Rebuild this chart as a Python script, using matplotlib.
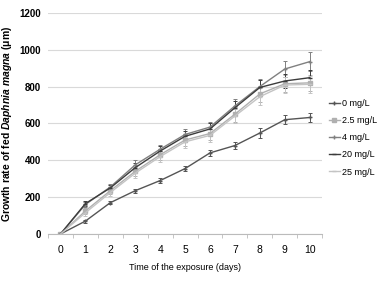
import numpy as np
import matplotlib
matplotlib.use("Agg")
import matplotlib.pyplot as plt

plt.rcParams['font.family'] = ['Liberation Sans', 'DejaVu Sans']
plt.rcParams['mathtext.fontset'] = 'custom'
plt.rcParams['mathtext.rm'] = 'Liberation Sans'
plt.rcParams['mathtext.it'] = 'Liberation Sans:italic'
plt.rcParams['mathtext.bf'] = 'Liberation Sans:bold'
plt.rcParams['mathtext.bfit'] = 'Liberation Sans:italic:bold'

days = [0, 1, 2, 3, 4, 5, 6, 7, 8, 9, 10]
labels = ["0 mg/L", "2.5 mg/L", "4 mg/L", "20 mg/L", "25 mg/L"]
g0 = [0, 70, 170, 235, 290, 355, 440, 480, 548, 620, 632]
g2_5 = [0, 125, 235, 340, 430, 510, 545, 650, 760, 815, 820]
g4 = [0, 160, 255, 375, 460, 540, 580, 695, 800, 895, 935]
g20 = [0, 165, 250, 360, 450, 530, 570, 685, 795, 830, 848]
g25 = [0, 115, 225, 330, 420, 500, 535, 640, 745, 808, 812]
e0 = [0, 8, 8, 10, 12, 15, 18, 20, 25, 25, 25]
e2_5 = [0, 15, 18, 25, 30, 35, 35, 40, 45, 45, 45]
e4 = [0, 12, 18, 25, 25, 30, 30, 35, 40, 45, 50]
e20 = [0, 12, 18, 25, 25, 30, 30, 35, 40, 40, 40]
e25 = [0, 15, 18, 25, 30, 35, 35, 40, 45, 45, 45]

series = [g0, g2_5, g4, g20, g25]
errs = [e0, e2_5, e4, e20, e25]
colors = ["#555555", "#b0b0b0", "#808080", "#3c3c3c", "#c4c4c4"]
markers = ["+", "s", "+", "_", "_"]

fig = plt.figure(figsize=(3.84, 2.84), dpi=100)
ax = fig.add_axes([0.125, 0.176, 0.714, 0.779])

lines = []
for ys, es, c, m, lab in zip(series, errs, colors, markers, labels):
    ax.errorbar(days, ys, yerr=es, color=c, marker=m, markersize=3,
                linewidth=1.0, elinewidth=0.7, capsize=1.5, capthick=0.7)
    ln, = ax.plot([], [], color=c, marker=m, markersize=3, linewidth=1.0, label=lab)
    lines.append(ln)

ax.set_xlim(-0.5, 10.5)
ax.set_ylim(0, 1200)
ax.set_yticks(range(0, 1201, 200))
ax.set_xticks(days)
ax.set_xticks(np.arange(-0.5, 10.6, 1), minor=True)
ax.tick_params(axis="x", which="major", length=0, labelsize=7.5, pad=8)
ax.tick_params(axis="x", which="minor", length=3, color="#bbbbbb")
ax.tick_params(axis="y", length=0, labelsize=7, pad=5)
for t in ax.get_yticklabels():
    t.set_fontweight("bold")
ax.grid(axis="y", color="#d9d9d9", linewidth=0.8)
ax.set_axisbelow(True)
for s in ["top", "right", "left"]:
    ax.spines[s].set_visible(False)
ax.spines["bottom"].set_color("#bbbbbb")

ax.set_xlabel("Time of the exposure (days)", fontsize=6.5, labelpad=6)
ax.set_ylabel(r"Growth rate of fed $\mathbfit{Daphnia\ magna}$ (μm)",
              fontsize=7.5, fontweight="bold", labelpad=4)

fig.legend(handles=lines, loc="upper left", bbox_to_anchor=(0.835, 0.68),
           frameon=False, fontsize=6.5, handlelength=1.2, handletextpad=0.3,
           labelspacing=0.9)

fig.savefig("out.png", dpi=100)
